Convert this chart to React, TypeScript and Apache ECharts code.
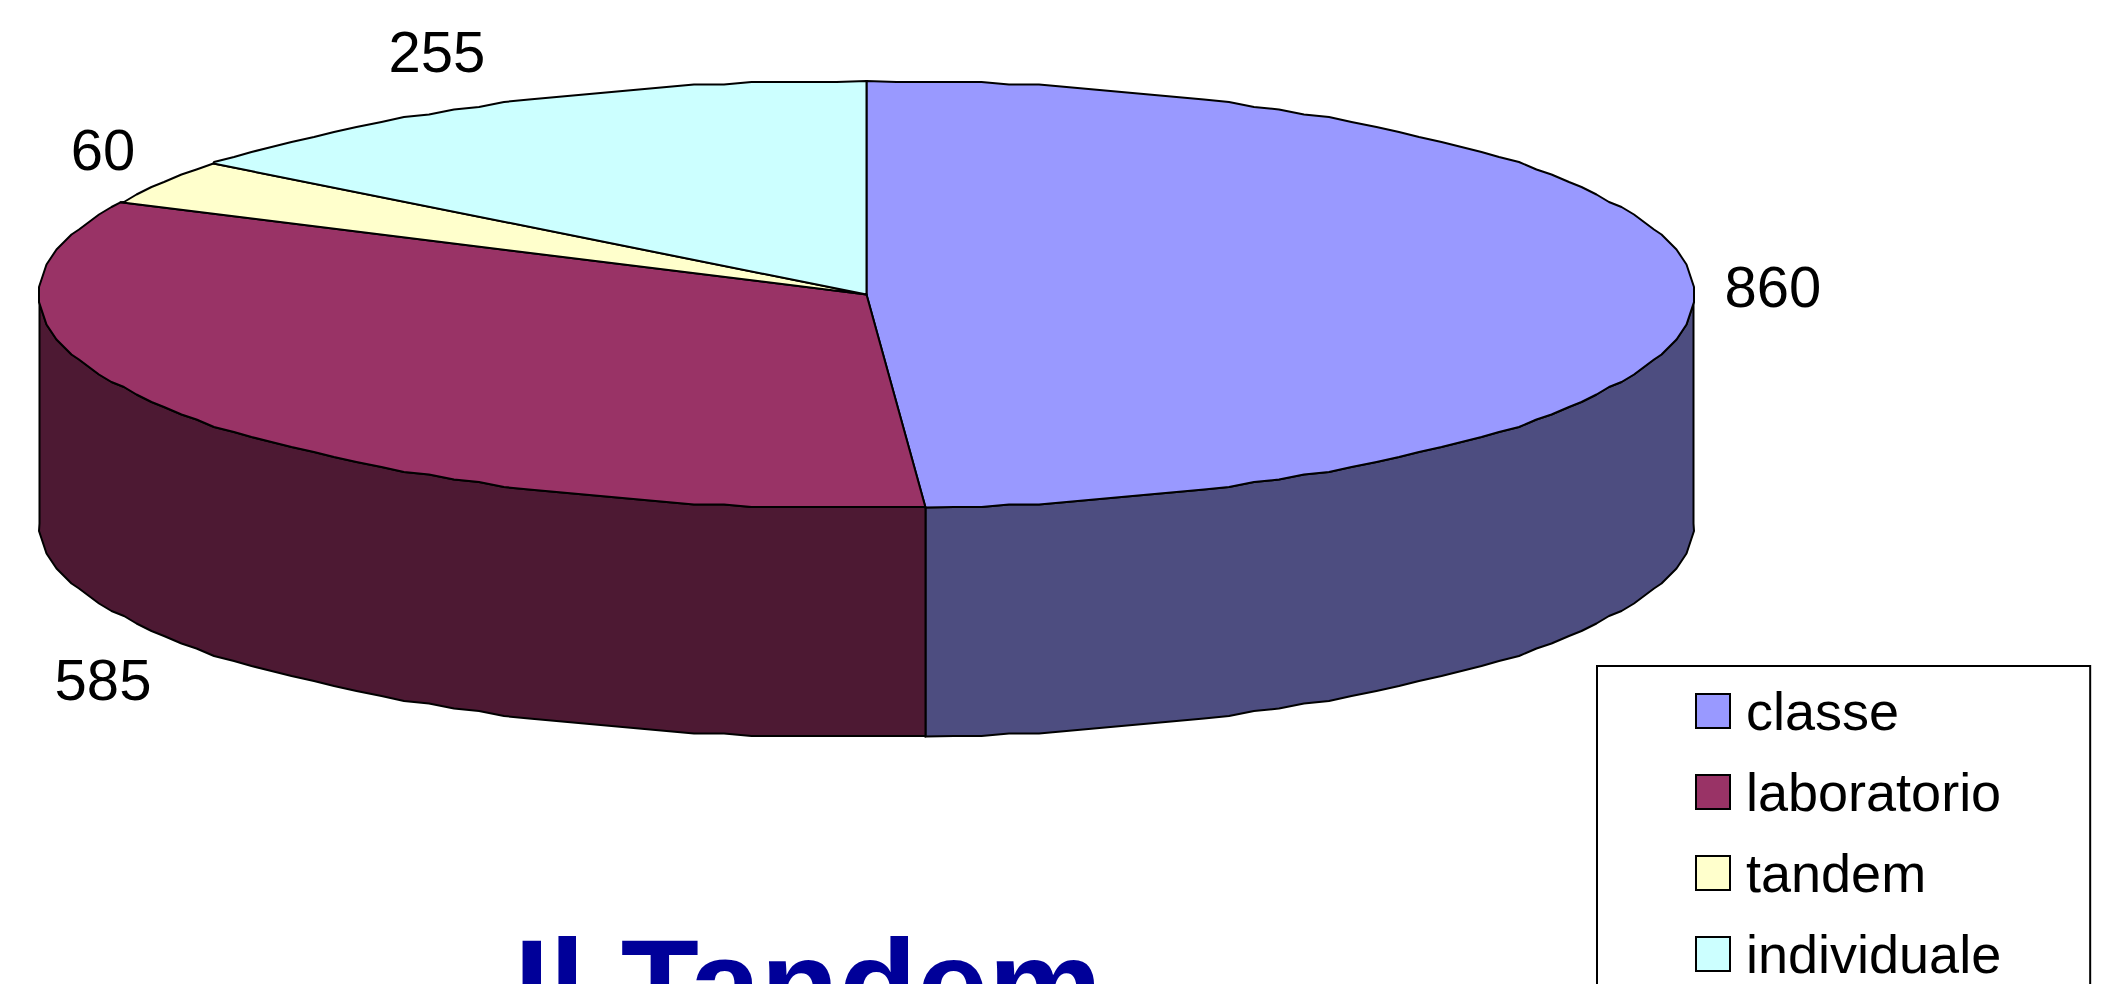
import React, { useEffect, useRef } from "react";
import * as echarts from "echarts";

const categories = ["classe", "laboratorio", "tandem", "individuale"];
const values = [860, 585, 60, 255];
const topColors = ["#9999FF", "#993366", "#FFFFCC", "#CCFFFF"];
const sideColors = ["#4D4D80", "#4D1933", "#808066", "#668080"];
const labelOffsets = [[80, 0], [-80, 36], [-60, -33], [-66, -51]];

const CX = 866.5, CY = 294.5, RX = 827, RY = 213.5, DEPTH = 229;
const GRID = 2.5; // the reference outline is a slightly wobbly polygon
const STEP = 2;
const FONT = "Liberation Sans";
const total = values.reduce((a, b) => a + b, 0);

const pt = (deg: number, dy = 0): number[] => {
  const t = (deg * Math.PI) / 180;
  return [CX + RX * Math.sin(t), CY - RY * Math.cos(t) + dy];
};
const snap = (p: number[], dy: number): number[] => [
  CX + Math.round((p[0] - CX) / GRID) * GRID,
  CY + Math.round((p[1] - dy - CY) / GRID) * GRID + dy,
];
// Samples sit on shared angles, so that the wall and the top follow one outline.
const arc = (a: number, b: number, dy = 0): number[][] => {
  const lo = Math.min(a, b), hi = Math.max(a, b);
  const out: number[][] = [pt(lo, dy)];
  for (let d = Math.ceil((lo + 0.01) / STEP) * STEP; d < hi - 0.01; d += STEP) {
    out.push(snap(pt(d, dy), dy));
  }
  out.push(pt(hi, dy));
  return a <= b ? out : out.reverse();
};

const makeRender = (index: number) => (_params: any, api: any) => {
  const before = values.slice(0, index).reduce((a, b) => a + b, 0);
  const start = (before / total) * 360;
  const end = start + (api.value(0) / total) * 360;
  const children: any[] = [];
  const stroke = { stroke: "#000", lineWidth: 2, lineJoin: "round" };
  const visA = Math.max(start, 90), visB = Math.min(end, 270);
  if (visB > visA) {
    const upper = arc(visA, visB);
    const lower = arc(visB, visA, DEPTH);
    children.push({
      type: "polygon",
      shape: { points: upper.concat(lower) },
      style: { fill: sideColors[index], ...stroke },
    });
  }
  children.push({
    type: "polygon",
    shape: { points: [[CX, CY], ...arc(start, end)] },
    style: { fill: topColors[index], ...stroke },
  });
  const mid = (start + end) / 2;
  const base = pt(mid, mid > 90 && mid < 270 ? DEPTH : 0);
  children.push({
    type: "text",
    x: base[0] + labelOffsets[index][0],
    y: base[1] + labelOffsets[index][1],
    style: {
      text: String(api.value(0)),
      fontFamily: FONT,
      fontSize: 58,
      fill: "#000",
      align: "center",
      verticalAlign: "middle",
    },
  });
  return { type: "group", children };
};

export default function App() {
  const ref = useRef<HTMLDivElement>(null);
  useEffect(() => {
    document.body.style.margin = "0";
    document.body.style.overflow = "hidden";
    const chart = echarts.init(ref.current!, undefined, { renderer: "svg" });
    chart.setOption({
      animation: false,
      backgroundColor: "#fff",
      title: {
        text: "Il Tandem",
        left: 514,
        top: 920,
        padding: 0,
        textStyle: { fontFamily: FONT, fontWeight: "bold", fontSize: 128, color: "#000099" },
      },
      legend: {
        orient: "vertical",
        left: 1597,
        top: 666,
        height: 420,
        width: 480,
        padding: [18, 89, 70, 98],
        backgroundColor: "#fff",
        borderColor: "#000",
        borderWidth: 2,
        itemWidth: 34,
        itemHeight: 34,
        itemGap: 27,
        selectedMode: false,
        textStyle: { fontFamily: FONT, fontSize: 54, color: "#000", padding: [0, 0, 0, 11] },
        data: categories.map((name, i) => ({
          name,
          icon: "rect",
          itemStyle: { color: topColors[i], borderColor: "#000", borderWidth: 2 },
        })),
      },
      series: categories.map((name, i) => ({
        type: "custom",
        name,
        coordinateSystem: "none",
        silent: true,
        clip: false,
        itemStyle: { color: topColors[i] },
        renderItem: makeRender(i),
        data: [[values[i]]],
      })),
    });
    return () => chart.dispose();
  }, []);
  return <div ref={ref} style={{ width: 2109, height: 984, overflow: "hidden" }} />;
}
